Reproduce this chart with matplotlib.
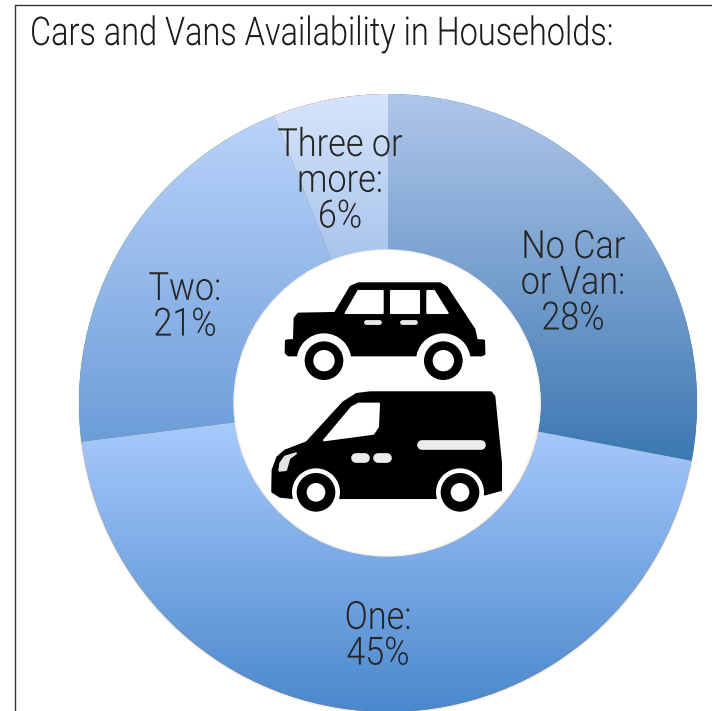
import matplotlib
matplotlib.use('Agg')
import matplotlib.pyplot as plt
import numpy as np
from matplotlib.colors import LinearSegmentedColormap
from matplotlib.patches import Circle, Polygon
from matplotlib.patheffects import AbstractPathEffect
from matplotlib.transforms import Affine2D

plt.rcParams['font.family'] = ['Roboto', 'DejaVu Sans']

# 数据
title = 'Cars and Vans Availability in Households:'
categories = ['No Car\nor Van:', 'One:', 'Two:', 'Three or\nmore:']
shares = [28, 45, 21, 6]

# 每块扇形的渐变色 (上, 下)
top_colors = ['#B0C6EA', '#A8CAFC', '#BAD3FB', '#D6E5FB']
bottom_colors = ['#3C78B2', '#4A88CC', '#6C9DD8', '#A8C4EC']

# 标签中心位置 (像素)
label_x = [573, 378, 185, 340]
label_y = [283, 636, 307, 181]


class Reshape(AbstractPathEffect):
    # 文字字形的水平/垂直缩放
    def __init__(self, sx, sy=1, center=True):
        super().__init__()
        self.sx = sx
        self.sy = sy
        self.center = center

    def draw_path(self, renderer, gc, tpath, affine, rgbFace=None):
        mid = 0
        if self.center:
            box = tpath.get_extents()
            mid = (box.x0 + box.x1) / 2
        scale = Affine2D().translate(-mid, 0).scale(self.sx, self.sy).translate(mid, 0)
        renderer.draw_path(gc, tpath, scale + affine, rgbFace)


fig = plt.figure(figsize=(7.12, 7.11), dpi=100)
ax = fig.add_axes([0, 0, 1, 1])

# 圆环
cx, cy = 388, 711 - 403
radius, inner = 309, 153
wedges, _ = ax.pie(shares, center=(cx, cy), radius=radius, startangle=90,
                   counterclock=False, wedgeprops={'width': radius - inner, 'linewidth': 0})

for k, w in enumerate(wedges):
    box = w.get_path().get_extents()
    cmap = LinearSegmentedColormap.from_list('w%d' % k, [top_colors[k], bottom_colors[k]])
    grad = np.linspace(0, 1, 256).reshape(-1, 1)
    im = ax.imshow(grad, cmap=cmap, aspect='auto', origin='upper', zorder=2,
                   extent=(box.x0, box.x1, box.y0, box.y1))
    im.set_clip_path(w)

# 外圈的淡阴影
ax.add_patch(Circle((cx, cy - 1), radius + 1, facecolor='#F6F1EA', edgecolor='none', zorder=0.5))
ax.set_xlim(0, 712)
ax.set_ylim(0, 711)
ax.set_aspect('auto')
ax.axis('off')

# 上层坐标轴: 图标, 文字, 边框, y 向下
ov = fig.add_axes([0, 0, 1, 1])
ov.set_xlim(0, 712)
ov.set_ylim(711, 0)
ov.axis('off')

ov.add_patch(Circle((387, 403), inner, facecolor='white', edgecolor='#F6F1EA', linewidth=1, zorder=1))


def px(points):
    # 图标坐标换算
    pts = np.array(points, dtype=float)
    return np.column_stack((230 + pts[:, 0] / 3, 250 + pts[:, 1] / 3))


def shape(points, color='black', z=2):
    ov.add_patch(Polygon(px(points), closed=True, facecolor=color, edgecolor=color,
                         linewidth=1.5, joinstyle='round', zorder=z))


def wheel(x, y, gap, outer, hole):
    (cx0, cy0), = px([(x, y)])
    ov.add_patch(Circle((cx0, cy0), gap / 3, facecolor='white', edgecolor='none', zorder=3))
    ov.add_patch(Circle((cx0, cy0), outer / 3, facecolor='black', edgecolor='none', zorder=4))
    ov.add_patch(Circle((cx0, cy0), hole / 3, facecolor='white', edgecolor='none', zorder=5))


def pill(x0, x1, y, color):
    pts = px([(x0, y), (x1, y)])
    ov.plot(pts[:, 0], pts[:, 1], color=color, linewidth=7, solid_capstyle='round', zorder=3)


# 轿车
shape([(168, 272), (192, 270), (194, 205), (205, 191), (315, 189), (362, 110), (385, 100),
       (630, 100), (650, 112), (733, 238), (740, 270), (762, 272), (763, 312), (755, 316),
       (175, 316), (167, 308)])
shape([(347, 189), (385, 123), (458, 123), (458, 189)], 'white', 3)
shape([(483, 123), (567, 123), (567, 189), (483, 189)], 'white', 3)
shape([(592, 123), (612, 123), (653, 189), (592, 189)], 'white', 3)
for x0, x1 in [(408, 448), (516, 556)]:
    pts = px([(x0, 215), (x1, 215)])
    ov.plot(pts[:, 0], pts[:, 1], color='#E8E8E8', linewidth=3.5, solid_capstyle='round', zorder=3)
wheel(282, 332, 82, 58, 32)
wheel(640, 332, 82, 58, 32)

# 货车
shape([(127, 712), (128, 660), (142, 622), (165, 602), (230, 577), (340, 457), (380, 432),
       (420, 427), (783, 427), (793, 440), (813, 640), (813, 720), (765, 733), (620, 744),
       (190, 744), (150, 740), (127, 725)])
shape([(282, 571), (365, 472), (385, 461), (447, 461), (444, 530), (430, 551)], 'white', 3)
shape([(148, 662), (151, 640), (165, 620), (198, 610), (178, 625), (168, 660)], '#E4E4E4', 3)
pill(378, 405, 624, '#ECECEC')
pill(443, 470, 624, '#ECECEC')
pill(577, 754, 586, '#ECECEC')
wheel(258, 727, 72, 58, 28)
wheel(690, 727, 72, 58, 28)

# 百分比标签
for k, name in enumerate(categories):
    ov.text(label_x[k], label_y[k], '%s\n%d%%' % (name, shares[k]), ha='center', va='center',
            fontsize=28, fontweight=300, color='#262626', linespacing=0.94, zorder=6,
            path_effects=[Reshape(0.88)])

ov.text(30, 45, title, ha='left', va='baseline', fontsize=24, fontweight=300, color='#1A1A1A',
        zorder=6, path_effects=[Reshape(0.974, 28.5 / 24, center=False)])

# 边框只有上边和左边
ov.plot([15, 15, 712], [711, 5, 5], color='#333333', linewidth=1, zorder=6)

plt.savefig('out.png', dpi=100)
